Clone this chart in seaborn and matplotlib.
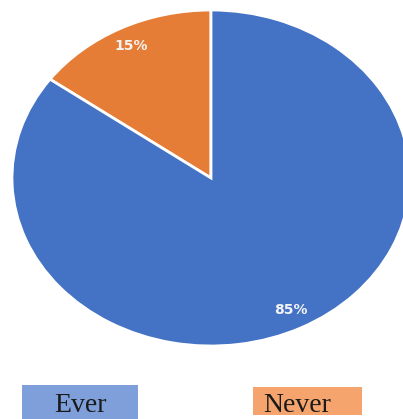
import matplotlib
matplotlib.use("Agg")
import matplotlib.pyplot as plt
from matplotlib.patches import Rectangle
import seaborn as sns

categories = ["Never", "Ever"]
values = [15, 85]
pie_colors = ["#E67D36", "#4472C4"]
legend_colors = {"Ever": "#7E9FDA", "Never": "#F5A46E"}

sns.set_theme(style="white")
plt.rcParams['font.family'] = ['DejaVu Sans']

W, H = 403, 419
fig = plt.figure(figsize=(W / 100, H / 100), dpi=100)
fig.patch.set_facecolor("white")
ax = fig.add_axes([0, 0, 1, 1])

cx, cy, rx, ry = 211, 178, 199, 168

wedges, texts, autotexts = ax.pie(
    values, colors=pie_colors, startangle=90, counterclock=True,
    autopct="%1.0f%%", pctdistance=0.88,
    wedgeprops=dict(edgecolor="white", linewidth=2),
    textprops=dict(color="#F4F4F4", fontsize=10, fontweight="bold"),
)
ax.set_xlim(-cx / rx, (W - cx) / rx)
ax.set_ylim(-(H - cy) / ry, cy / ry)
ax.set_aspect("auto")
ax.axis("off")

# legend boxes
boxes = {"Ever": (22, 385, 138, 419, 80), "Never": (253, 387, 362, 415, 297)}
for lab in ["Ever", "Never"]:
    x0, y0, x1, y1, tx = boxes[lab]
    fig.patches.append(Rectangle((x0 / W, 1 - y1 / H), (x1 - x0) / W, (y1 - y0) / H,
                                 transform=fig.transFigure, facecolor=legend_colors[lab],
                                 edgecolor="none", zorder=1))
    fig.text(tx / W, 1 - 412 / H, lab, ha="center", va="baseline",
             fontsize=20, color="#1a1a1a", family=["Liberation Serif", "DejaVu Serif"], zorder=2)

fig.savefig("out.png", dpi=100, facecolor="white")
